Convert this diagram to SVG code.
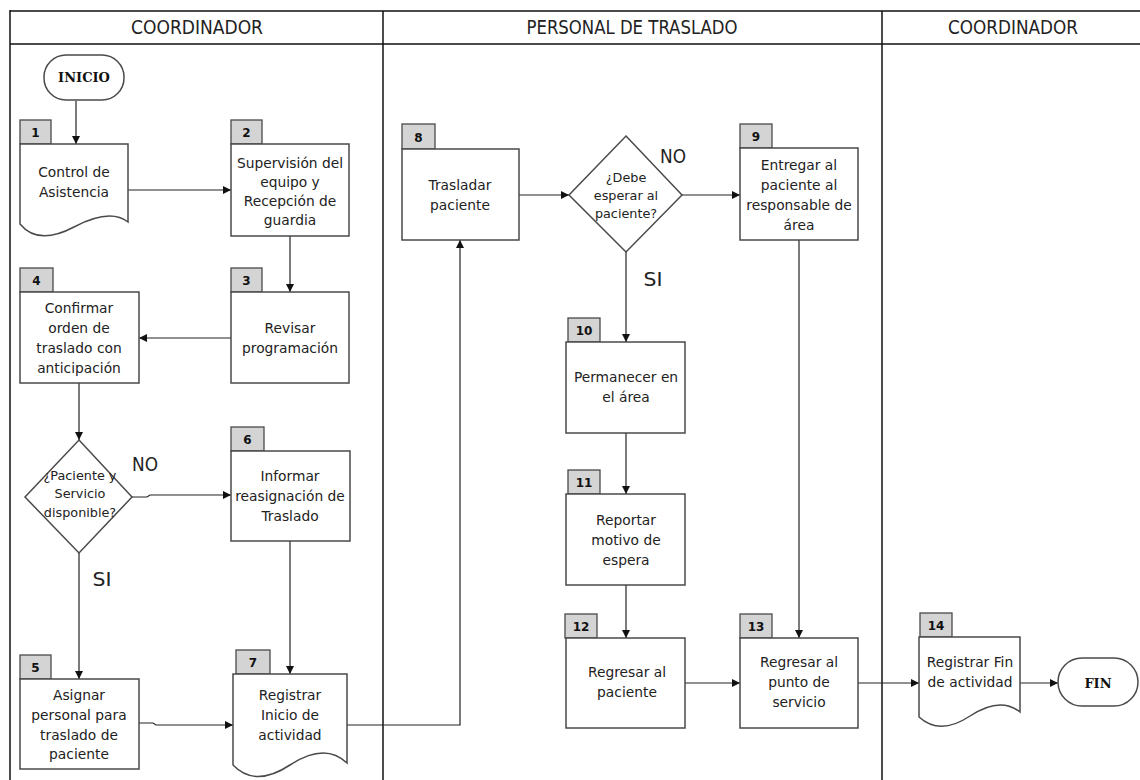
<svg xmlns="http://www.w3.org/2000/svg" width="1140" height="780" viewBox="0 0 1140 780">
<style>
.lane{stroke:#111;stroke-width:1.5;fill:none}
.box{fill:#fff;stroke:#4a4a4a;stroke-width:1.5}
.tag{fill:#d4d4d4;stroke:#4a4a4a;stroke-width:1.3}
.num{font-family:"DejaVu Sans",Verdana,sans-serif;font-weight:bold;font-size:12px;fill:#111;text-anchor:middle}
.t{font-family:"DejaVu Sans",Verdana,sans-serif;font-size:13.8px;fill:#222;text-anchor:middle}
.td{font-family:"DejaVu Sans",Verdana,sans-serif;font-size:12.8px;fill:#222;text-anchor:middle}
.term{font-family:"DejaVu Serif",Georgia,serif;font-weight:bold;font-size:13px;fill:#111;text-anchor:middle}
.hd{font-family:"DejaVu Sans Condensed","DejaVu Sans",sans-serif;font-size:20px;fill:#222;text-anchor:middle}
.lbl{font-family:"DejaVu Sans Condensed","DejaVu Sans",sans-serif;font-size:20px;fill:#222;text-anchor:middle}
.c{fill:none;stroke:#222;stroke-width:1.2;marker-end:url(#ah)}
</style>
<defs>
<marker id="ah" viewBox="0 0 10 10" refX="10" refY="5" markerWidth="8" markerHeight="8" markerUnits="userSpaceOnUse" orient="auto">
<path d="M0,0 L10,5 L0,10 Z" fill="#111"/>
</marker>
</defs>
<rect width="1140" height="780" fill="#fff"/>
<g id="lanes">
<line class="lane" x1="10" y1="11" x2="1140" y2="11" stroke-width="2"/>
<line class="lane" x1="10" y1="44" x2="1140" y2="44"/>
<line class="lane" x1="10" y1="10" x2="10" y2="780" stroke-width="3"/>
<line class="lane" x1="383" y1="11" x2="383" y2="780"/>
<line class="lane" x1="882" y1="11" x2="882" y2="780"/>
<text class="hd" x="197" y="34" textLength="132" lengthAdjust="spacingAndGlyphs">COORDINADOR</text>
<text class="hd" x="632" y="34" textLength="211" lengthAdjust="spacingAndGlyphs">PERSONAL DE TRASLADO</text>
<text class="hd" x="1013" y="34" textLength="130" lengthAdjust="spacingAndGlyphs">COORDINADOR</text>
</g>
<g id="connectors">
<path class="c" d="M76,101 V144"/>
<path class="c" d="M128,190 H231"/>
<path class="c" d="M290,236 V292"/>
<path class="c" d="M231,338 H139"/>
<path class="c" d="M79,383 V440"/>
<path class="c" d="M132,497 H147 L150,495 H231"/>
<path class="c" d="M79,553 V679"/>
<path class="c" d="M290,541 V674"/>
<path class="c" d="M139,723 H153 L156,725 H233"/>
<path class="c" d="M347,725 H460 V240"/>
<path class="c" d="M519,195 H569"/>
<path class="c" d="M682,195 H740"/>
<path class="c" d="M626,252 V342"/>
<path class="c" d="M626,433 V494"/>
<path class="c" d="M626,585 V638"/>
<path class="c" d="M685,683 H740"/>
<path class="c" d="M799,240 V638"/>
<path class="c" d="M858,683 H919"/>
<path class="c" d="M1020,683 H1058"/>
<text class="lbl" x="145" y="471" textLength="26" lengthAdjust="spacingAndGlyphs">NO</text>
<text class="lbl" x="102" y="586" textLength="19" lengthAdjust="spacingAndGlyphs">SI</text>
<text class="lbl" x="673" y="163" textLength="26" lengthAdjust="spacingAndGlyphs">NO</text>
<text class="lbl" x="653" y="286" textLength="19" lengthAdjust="spacingAndGlyphs">SI</text>
</g>
<g id="inicio">
<rect class="box" x="44" y="55" width="80" height="45" rx="22"/>
<text class="term" x="84" y="82">INICIO</text>
</g>
<g id="n1">
<rect class="tag" x="20" y="120" width="31" height="24"/>
<text class="num" x="35.5" y="137">1</text>
<path class="box" d="M20,144 H128 V222 Q110,208 74,227 Q38,246 20,224 Z"/>
<text class="t" x="74" y="177">Control de</text>
<text class="t" x="74" y="197">Asistencia</text>
</g>
<g id="n2">
<rect class="tag" x="231" y="120" width="31" height="24"/>
<text class="num" x="246.5" y="137">2</text>
<rect class="box" x="231" y="144" width="118" height="92"/>
<text class="t" x="290" y="168">Supervisión del</text>
<text class="t" x="290" y="187">equipo y</text>
<text class="t" x="290" y="206">Recepción de</text>
<text class="t" x="290" y="225">guardia</text>
</g>
<g id="n3">
<rect class="tag" x="231" y="268" width="31" height="24"/>
<text class="num" x="246.5" y="285">3</text>
<rect class="box" x="231" y="292" width="118" height="91"/>
<text class="t" x="290" y="333">Revisar</text>
<text class="t" x="290" y="353">programación</text>
</g>
<g id="n4">
<rect class="tag" x="20" y="268" width="33" height="24"/>
<text class="num" x="36.5" y="285">4</text>
<rect class="box" x="20" y="292" width="119" height="91"/>
<text class="t" x="79" y="313">Confirmar</text>
<text class="t" x="79" y="333">orden de</text>
<text class="t" x="79" y="353">traslado con</text>
<text class="t" x="79" y="373">anticipación</text>
</g>
<g id="d1">
<path class="box" d="M79,440 L132,497 L79,553 L25,497 Z"/>
<text class="td" x="80" y="480">¿Paciente y</text>
<text class="td" x="80" y="498">Servicio</text>
<text class="td" x="80" y="517">disponible?</text>
</g>
<g id="n6">
<rect class="tag" x="231" y="427" width="33" height="24"/>
<text class="num" x="247.5" y="444">6</text>
<rect class="box" x="231" y="451" width="119" height="90"/>
<text class="t" x="290" y="481">Informar</text>
<text class="t" x="290" y="501">reasignación de</text>
<text class="t" x="290" y="521">Traslado</text>
</g>
<g id="n5">
<rect class="tag" x="20" y="655" width="31" height="24"/>
<text class="num" x="35.5" y="672">5</text>
<rect class="box" x="20" y="679" width="119" height="90"/>
<text class="t" x="79" y="700">Asignar</text>
<text class="t" x="79" y="720">personal para</text>
<text class="t" x="79" y="740">traslado de</text>
<text class="t" x="79" y="759">paciente</text>
</g>
<g id="n7">
<rect class="tag" x="236" y="650" width="34" height="24"/>
<text class="num" x="253" y="667">7</text>
<path class="box" d="M233,674 H347 V763 Q325,742 290,765 Q255,788 233,765 Z"/>
<text class="t" x="290" y="700">Registrar</text>
<text class="t" x="290" y="720">Inicio de</text>
<text class="t" x="290" y="740">actividad</text>
</g>
<g id="n8">
<rect class="tag" x="402" y="124" width="33" height="25"/>
<text class="num" x="418.5" y="142">8</text>
<rect class="box" x="402" y="149" width="117" height="91"/>
<text class="t" x="460" y="190">Trasladar</text>
<text class="t" x="460" y="210">paciente</text>
</g>
<g id="d2">
<path class="box" d="M626,136 L682,195 L626,252 L569,195 Z"/>
<text class="td" x="626" y="182">¿Debe</text>
<text class="td" x="626" y="200">esperar al</text>
<text class="td" x="626" y="218">paciente?</text>
</g>
<g id="n9">
<rect class="tag" x="740" y="124" width="32" height="24"/>
<text class="num" x="756" y="141">9</text>
<rect class="box" x="740" y="148" width="118" height="92"/>
<text class="t" x="799" y="170">Entregar al</text>
<text class="t" x="799" y="190">paciente al</text>
<text class="t" x="799" y="210">responsable de</text>
<text class="t" x="799" y="230">área</text>
</g>
<g id="n10">
<rect class="tag" x="568" y="318" width="32" height="24"/>
<text class="num" x="584" y="335">10</text>
<rect class="box" x="566" y="342" width="119" height="91"/>
<text class="t" x="626" y="382">Permanecer en</text>
<text class="t" x="626" y="402">el área</text>
</g>
<g id="n11">
<rect class="tag" x="568" y="470" width="32" height="24"/>
<text class="num" x="584" y="487">11</text>
<rect class="box" x="566" y="494" width="119" height="91"/>
<text class="t" x="626" y="525">Reportar</text>
<text class="t" x="626" y="545">motivo de</text>
<text class="t" x="626" y="565">espera</text>
</g>
<g id="n12">
<rect class="tag" x="565" y="614" width="32" height="24"/>
<text class="num" x="581" y="631">12</text>
<rect class="box" x="566" y="638" width="119" height="90"/>
<text class="t" x="627" y="677">Regresar al</text>
<text class="t" x="627" y="697">paciente</text>
</g>
<g id="n13">
<rect class="tag" x="740" y="614" width="32" height="24"/>
<text class="num" x="756" y="631">13</text>
<rect class="box" x="740" y="638" width="118" height="90"/>
<text class="t" x="799" y="667">Regresar al</text>
<text class="t" x="799" y="687">punto de</text>
<text class="t" x="799" y="707">servicio</text>
</g>
<g id="n14">
<rect class="tag" x="920" y="613" width="32" height="24"/>
<text class="num" x="936" y="630">14</text>
<path class="box" d="M919,637 H1020 V712 Q1000,696 970,716 Q940,736 919,717 Z"/>
<text class="t" x="970" y="667">Registrar Fin</text>
<text class="t" x="970" y="687">de actividad</text>
</g>
<g id="fin">
<rect class="box" x="1058" y="658" width="80" height="48" rx="24"/>
<text class="term" x="1098" y="688">FIN</text>
</g>
</svg>
